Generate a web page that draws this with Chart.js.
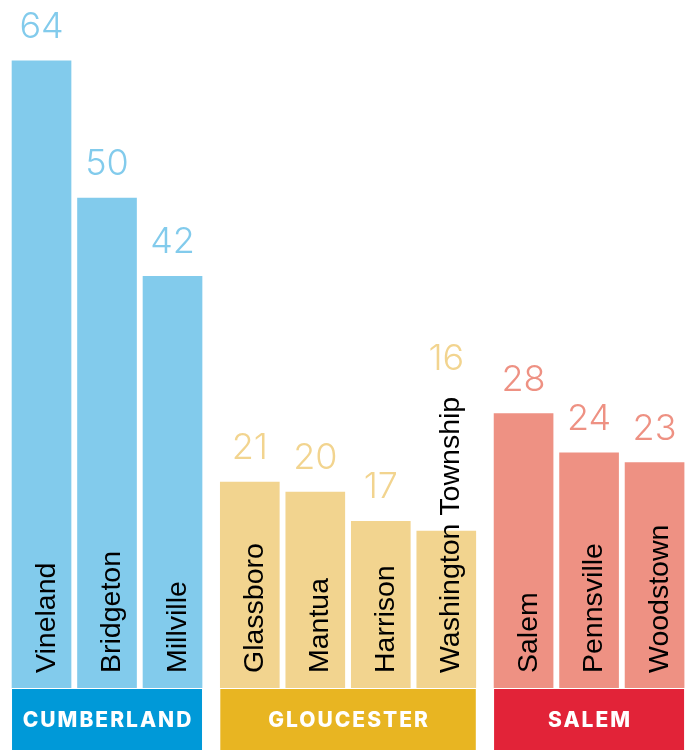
<!DOCTYPE html>
<html>
<head>
<meta charset="utf-8">
<script src="https://cdn.jsdelivr.net/npm/chart.js@4/dist/chart.umd.min.js"></script>
<style>
  html, body { margin: 0; padding: 0; background: #fff; }
  #wrap { width: 690px; height: 750px; }
</style>
</head>
<body>
<div id="wrap"><canvas id="chart" width="690" height="750"></canvas></div>
<script>
// counties and towns
const counties = ["CUMBERLAND", "GLOUCESTER", "SALEM"];
const towns = ["Vineland", "Bridgeton", "Millville", "Glassboro", "Mantua", "Harrison",
               "Washington Township", "Salem", "Pennsville", "Woodstown"];
const townCounty = [0, 0, 0, 1, 1, 1, 1, 2, 2, 2];
const counts = [64, 50, 42, 21, 20, 17, 16, 28, 24, 23];

const barColors = ["#82cbec", "#f2d48f", "#ee9183"];
const bandColors = ["#0099d8", "#e8b522", "#e22338"];

// extra space between county groups, in bar slots
const groupGap = 0.18;

const points = counts.map((v, i) => ({ x: i + townCounty[i] * groupGap, y: v }));

const labelsPlugin = {
    id: "townLabels",
    afterDatasetsDraw(chart) {
        const ctx = chart.ctx;
        const bars = chart.getDatasetMeta(0).data;
        const bottom = chart.chartArea.bottom;
        const foot = bottom - 15;

        ctx.save();
        bars.forEach((bar, i) => {
            const color = barColors[townCounty[i]];

            // town name, rotated, sitting at the foot of the bar
            ctx.save();
            ctx.font = "28.5px 'Liberation Sans', Arial, sans-serif";
            ctx.fillStyle = "#000";
            ctx.textAlign = "left";
            ctx.textBaseline = "alphabetic";
            const tw = ctx.measureText(towns[i]).width;
            ctx.translate(bar.x + 13, foot);
            ctx.rotate(-Math.PI / 2);
            ctx.fillText(towns[i], 0, 0);
            ctx.restore();

            // value above the bar (or above the name when it sticks out)
            const top = Math.min(bar.y, foot - tw - 4);
            ctx.font = "300 36px Inter, 'Noto Sans', sans-serif";
            ctx.fillStyle = color;
            ctx.textAlign = "center";
            ctx.textBaseline = "alphabetic";
            ctx.fillText(String(counts[i]), bar.x, top - 23);
        });

        // county bands under each group
        counties.forEach((name, g) => {
            const idx = bars.map((b, i) => i).filter(i => townCounty[i] === g);
            const left = Math.min(...idx.map(i => bars[i].x - bars[i].width / 2));
            const right = Math.max(...idx.map(i => bars[i].x + bars[i].width / 2));
            const y0 = bottom + 1;
            ctx.fillStyle = bandColors[g];
            ctx.fillRect(left, y0, right - left, chart.height - y0);

            ctx.fillStyle = "#fff";
            ctx.font = "800 21px Inter, 'Noto Sans', sans-serif";
            ctx.letterSpacing = "2px";
            ctx.textAlign = "center";
            ctx.textBaseline = "middle";
            ctx.fillText(name, (left + right) / 2 + 1, (y0 + chart.height) / 2 + 1);
            ctx.letterSpacing = "0px";
        });
        ctx.restore();
    }
};

new Chart(document.getElementById("chart"), {
    type: "bar",
    data: {
        datasets: [{
            data: points,
            backgroundColor: points.map((p, i) => barColors[townCounty[i]]),
            borderWidth: 0,
            barThickness: 59
        }]
    },
    options: {
        responsive: false,
        devicePixelRatio: 1,
        animation: false,
        layout: { padding: { left: 0, right: 0, top: 0, bottom: 62 } },
        scales: {
            x: { type: "linear", display: false, offset: false, min: -0.634, max: 9.901 },
            y: { display: false, min: 0, max: 70.2 }
        },
        plugins: {
            legend: { display: false },
            tooltip: { enabled: false }
        }
    },
    plugins: [labelsPlugin]
});
</script>
</body>
</html>
